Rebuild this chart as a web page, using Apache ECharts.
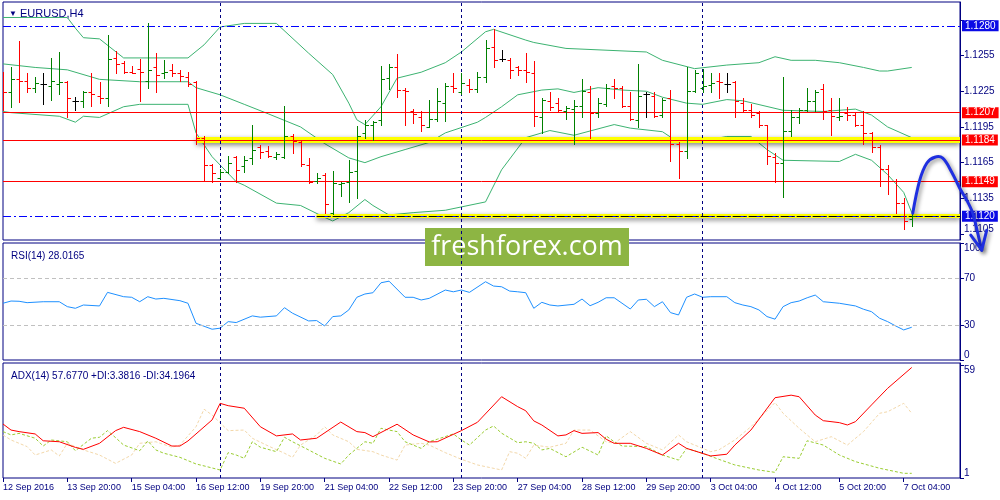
<!DOCTYPE html>
<html>
<head>
<meta charset="utf-8">
<title>EURUSD,H4</title>
<script src="https://cdn.jsdelivr.net/npm/echarts@6/dist/echarts.min.js"></script>
<style>
html, body { margin: 0; padding: 0; background: #fff; }
#chart { width: 1000px; height: 500px; }
</style>
</head>
<body>
<div id="chart"></div>
<script>
// EURUSD H4 bars, one entry per bar (12 Sep 12:00 .. 7 Oct 04:00)
var barOpen = [1.1237,1.1224,1.1235,1.1234,1.1228,1.1231,1.1229,1.1231,1.1233,1.1217,
  1.1217,1.1224,1.1221,1.1219,1.1253,1.1249,1.1241,1.1244,1.1234,1.1245,
  1.1240,1.1243,1.1240,1.1237,1.1233,1.1186,1.1163,1.1152,1.1157,1.1170,
  1.1162,1.1169,1.1178,1.1175,1.1170,1.1170,1.1187,1.1182,1.1163,1.1150,
  1.1155,1.1123,1.1147,1.1149,1.1158,1.1190,1.1197,1.1201,1.1236,1.1245,
  1.1226,1.1208,1.1203,1.1195,1.1202,1.1215,1.1229,1.1224,1.1230,1.1227,
  1.1237,1.1262,1.1252,1.1251,1.1245,1.1243,1.1240,1.1203,1.1217,1.1215,
  1.1208,1.1210,1.1213,1.1224,1.1207,1.1214,1.1229,1.1228,1.1213,1.1201,
  1.1223,1.1221,1.1205,1.1219,1.1181,1.1175,1.1225,1.1228,1.1230,1.1234,
  1.1231,1.1233,1.1215,1.1209,1.1207,1.1197,1.1170,1.1165,1.1192,1.1203,
  1.1209,1.1217,1.1227,1.1209,1.1203,1.1207,1.1205,1.1197,1.1190,1.1178,
  1.1160,1.1150,1.1131,1.1118];
var barHigh = [1.1241,1.1245,1.1267,1.1240,1.1237,1.1240,1.1253,1.1258,1.1234,1.1220,
  1.1225,1.1240,1.1233,1.1272,1.1259,1.1250,1.1246,1.1252,1.1282,1.1257,
  1.1251,1.1248,1.1243,1.1241,1.1234,1.1187,1.1164,1.1160,1.1171,1.1171,
  1.1171,1.1197,1.1180,1.1179,1.1174,1.1213,1.1189,1.1183,1.1169,1.1156,
  1.1156,1.1158,1.1149,1.1167,1.1196,1.1201,1.1200,1.1246,1.1248,1.1256,
  1.1228,1.1210,1.1208,1.1218,1.1228,1.1232,1.1240,1.1240,1.1235,1.1241,
  1.1268,1.1277,1.1260,1.1253,1.1246,1.1257,1.1250,1.1219,1.1224,1.1219,
  1.1213,1.1218,1.1235,1.1229,1.1219,1.1231,1.1235,1.1229,1.1224,1.1248,
  1.1224,1.1224,1.1219,1.1226,1.1182,1.1245,1.1243,1.1244,1.1240,1.1240,
  1.1240,1.1234,1.1219,1.1214,1.1208,1.1197,1.1173,1.1237,1.1209,1.1211,
  1.1228,1.1226,1.1231,1.1219,1.1219,1.1212,1.1207,1.1208,1.1191,1.1180,
  1.1163,1.1151,1.1135,1.1123];
var barLow = [1.1209,1.1212,1.1216,1.1224,1.1224,1.1214,1.1218,1.1223,1.1203,1.1209,
  1.1212,1.1213,1.1215,1.1213,1.1240,1.1240,1.1240,1.1217,1.1228,1.1224,
  1.1236,1.1238,1.1234,1.1229,1.1181,1.1150,1.1149,1.1152,1.1156,1.1149,
  1.1157,1.1164,1.1169,1.1170,1.1168,1.1169,1.1173,1.1162,1.1148,1.1148,
  1.1123,1.1122,1.1137,1.1132,1.1135,1.1186,1.1184,1.1197,1.1227,1.1220,
  1.1197,1.1198,1.1192,1.1195,1.1200,1.1200,1.1224,1.1223,1.1224,1.1224,
  1.1233,1.1245,1.1250,1.1236,1.1239,1.1233,1.1196,1.1190,1.1209,1.1208,
  1.1202,1.1181,1.1203,1.1186,1.1203,1.1213,1.1219,1.1212,1.1201,1.1195,
  1.1203,1.1203,1.1203,1.1166,1.1152,1.1169,1.1224,1.1224,1.1224,1.1219,
  1.1224,1.1203,1.1208,1.1203,1.1195,1.1164,1.1149,1.1136,1.1187,1.1198,
  1.1208,1.1208,1.1202,1.1188,1.1201,1.1201,1.1196,1.1181,1.1174,1.1145,
  1.1139,1.1123,1.1109,1.1112];
var barClose = [1.1224,1.1235,1.1234,1.1228,1.1232,1.1231,1.1234,1.1233,1.1219,1.1217,
  1.1224,1.1223,1.1219,1.1252,1.1248,1.1241,1.1240,1.1241,1.1243,1.1239,
  1.1241,1.1240,1.1238,1.1231,1.1186,1.1163,1.1156,1.1157,1.1165,1.1159,
  1.1167,1.1176,1.1174,1.1171,1.1172,1.1187,1.1183,1.1164,1.1149,1.1152,
  1.1130,1.1148,1.1148,1.1157,1.1187,1.1197,1.1199,1.1235,1.1245,1.1226,
  1.1225,1.1206,1.1197,1.1202,1.1217,1.1229,1.1228,1.1232,1.1227,1.1237,
  1.1261,1.1251,1.1252,1.1243,1.1243,1.1241,1.1204,1.1218,1.1212,1.1209,
  1.1211,1.1213,1.1225,1.1207,1.1215,1.1228,1.1228,1.1213,1.1202,1.1221,
  1.1223,1.1204,1.1218,1.1181,1.1175,1.1225,1.1240,1.1229,1.1232,1.1233,
  1.1231,1.1217,1.1209,1.1205,1.1197,1.1171,1.1165,1.1192,1.1203,1.1209,
  1.1217,1.1224,1.1208,1.1204,1.1204,1.1205,1.1197,1.1190,1.1178,1.1160,
  1.1150,1.1131,1.1116,1.1120];

// Bollinger bands, read as [bar, price]
var bbUpper = [[0,1.1287],[8,1.1287],[9,1.1278],[10,1.1270],[12,1.1269],[15,1.1253],[23,1.1253],
  [25,1.1264],[27,1.1279],[30,1.1282],[34,1.1282],[38,1.1257],[41,1.1239],[43,1.1215],[44,1.1201],
  [45,1.1197],[47,1.1212],[49,1.1236],[52,1.1241],[55,1.1249],[57,1.1258],[60,1.1275],[61,1.1277],
  [65,1.1268],[66,1.1266],[70,1.1261],[80,1.1258],[82,1.1251],[86,1.1244],[90,1.1247],[94,1.1249],
  [96,1.1254],[98,1.1251],[101,1.1251],[104,1.1249],[107,1.1245],[109,1.1242],[110,1.1242],[113,1.1245]];
var bbMiddle = [[0,1.1248],[4,1.1245],[8,1.1243],[12,1.1235],[17,1.1233],[23,1.1233],[24,1.1228],
  [27,1.1222],[30,1.1214],[33,1.1206],[37,1.1195],[40,1.1181],[43,1.1169],[45,1.1165],[47,1.1170],
  [50,1.1176],[53,1.1182],[55,1.1190],[59,1.1199],[60,1.1203],[62,1.1212],[64,1.1222],[67,1.1226],
  [69,1.1227],[71,1.1224],[74,1.1228],[77,1.1226],[80,1.1225],[82,1.1220],[85,1.1215],[87,1.1214],
  [90,1.1218],[92,1.1217],[97,1.1209],[102,1.1208],[106,1.1210],[108,1.1205],[110,1.1195],[113,1.1186]];
var bbLower = [[0,1.1208],[1,1.1207],[7,1.1204],[9,1.1199],[10,1.1204],[12,1.1203],[15,1.1212],
  [17,1.1214],[23,1.1214],[24,1.1190],[26,1.1170],[29,1.1149],[30,1.1146],[34,1.1131],[37,1.1129],
  [40,1.1119],[41,1.1116],[43,1.1123],[45,1.1134],[46,1.1129],[48,1.1121],[51,1.1123],[55,1.1125],
  [60,1.1132],[62,1.1159],[65,1.1186],[68,1.1192],[71,1.1188],[76,1.1197],[78,1.1194],[82,1.1191],
  [84,1.1182],[86,1.1182],[90,1.1187],[93,1.1187],[95,1.1176],[97,1.1167],[104,1.1166],[106,1.1172],
  [108,1.1167],[110,1.1155],[112,1.1140],[113,1.1123]];

// RSI(14)
var rsiPoints = [[0,48.5],[1,50.4],[2,50.2],[3,49.0],[5,49.8],[7,49.8],[8,45.6],[9,44.2],[10,47.0],
  [12,46.2],[13,57.8],[15,54.1],[16,53.6],[17,49.8],[18,54.1],[19,52.1],[20,52.7],[22,50.7],[23,48.5],
  [24,31.4],[26,26.3],[27,27.2],[28,32.8],[29,32.0],[31,37.7],[32,36.6],[34,37.7],[35,44.7],[36,40.0],
  [38,33.4],[39,33.7],[40,29.1],[41,37.1],[42,37.7],[43,42.8],[44,53.6],[45,56.4],[46,57.5],[47,66.0],
  [48,67.4],[50,53.6],[51,53.6],[52,51.3],[53,52.7],[55,59.8],[56,58.3],[57,59.8],[58,57.8],[60,66.9],
  [61,63.2],[62,62.6],[63,58.9],[64,58.3],[65,57.5],[66,44.2],[67,49.3],[68,47.0],[69,46.2],[71,47.6],
  [72,52.1],[73,46.4],[74,49.3],[75,53.2],[76,53.2],[78,43.6],[79,51.3],[80,51.9],[81,45.6],[82,49.8],
  [83,40.5],[84,38.5],[85,53.6],[86,56.4],[87,53.6],[88,54.1],[90,54.1],[91,49.0],[92,47.0],[93,45.6],
  [94,42.8],[95,37.1],[96,34.9],[97,45.6],[98,49.0],[99,50.4],[100,53.2],[101,55.5],[102,49.8],
  [104,48.5],[106,46.2],[107,43.4],[108,41.3],[109,35.7],[110,32.8],[111,29.1],[112,25.7],[113,28.0]];

// ADX(14) with +DI / -DI
var adxMain = [[0,28.7],[1,25.6],[2,24.8],[4,23.6],[5,20.1],[7,19.6],[9,16.7],[10,15.7],[12,18.8],
  [14,25.3],[15,27.0],[17,24.8],[19,21.4],[21,17.4],[22,17.4],[23,20.0],[26,30.8],[27,39.3],[28,38.1],
  [30,36.8],[32,27.3],[34,22.6],[36,23.6],[37,20.5],[39,21.4],[42,29.7],[44,24.8],[45,24.3],[46,22.2],
  [49,28.6],[51,23.1],[53,19.5],[54,19.6],[57,25.3],[59,29.6],[62,42.7],[64,37.6],[65,35.5],[66,30.3],
  [67,28.2],[69,22.6],[70,23.1],[71,25.3],[72,23.9],[74,24.3],[75,20.9],[76,18.8],[78,18.8],[80,16.2],
  [82,12.8],[84,18.8],[85,16.2],[88,12.3],[90,13.2],[91,17.9],[93,25.6],[96,42.2],[98,43.5],[99,42.7],
  [101,33.3],[102,30.4],[104,29.4],[105,28.2],[106,29.9],[108,38.5],[110,47.0],[113,57.7]];
var plusDI = [[0,24.8],[1,23.1],[2,23.9],[4,21.4],[5,17.4],[6,20.5],[8,19.6],[9,15.0],[11,21.4],
  [12,21.9],[13,25.3],[14,21.7],[15,17.9],[17,15.0],[18,20.0],[19,15.4],[20,13.7],[22,11.6],[24,8.2],
  [25,7.2],[27,5.1],[28,14.0],[29,12.8],[30,11.1],[31,19.6],[32,16.8],[34,14.5],[35,21.9],[36,19.6],
  [38,15.4],[40,11.1],[42,8.2],[43,12.8],[45,19.6],[46,18.8],[47,26.5],[48,25.6],[49,24.8],[50,19.6],
  [52,16.2],[53,19.6],[54,20.9],[56,23.6],[57,20.5],[58,17.9],[60,25.6],[61,27.7],[62,24.0],[64,19.1],
  [65,19.6],[66,18.8],[67,15.4],[68,16.2],[70,11.9],[72,16.8],[74,12.8],[75,22.6],[76,19.6],[77,17.4],
  [80,17.1],[82,12.8],[84,10.2],[85,16.2],[87,13.7],[89,10.6],[91,7.7],[94,5.1],[96,3.9],[97,11.9],
  [99,11.1],[100,20.1],[102,17.9],[104,12.8],[106,9.4],[109,6.0],[112,3.4],[113,3.4]];
var minusDI = [[0,23.1],[1,20.5],[3,17.1],[4,12.8],[6,15.4],[7,12.3],[8,18.8],[10,15.4],[12,12.8],
  [14,8.5],[16,12.8],[17,18.8],[19,19.6],[21,16.8],[22,17.9],[24,27.3],[25,36.3],[26,33.3],[28,25.3],
  [30,25.6],[31,21.4],[33,17.4],[35,13.7],[36,11.6],[37,17.9],[39,23.1],[40,27.3],[41,23.1],[43,19.6],
  [44,15.7],[46,14.5],[47,12.8],[49,10.2],[50,17.9],[52,18.8],[53,17.9],[55,14.0],[57,10.6],[59,7.7],
  [62,5.1],[63,14.5],[64,13.7],[65,11.1],[66,17.9],[68,16.8],[70,18.8],[71,25.6],[73,25.6],[75,19.6],
  [76,18.8],[78,24.8],[80,18.8],[82,15.4],[84,23.1],[85,19.6],[88,14.5],[89,15.4],[91,20.5],[93,27.3],
  [96,39.7],[97,34.2],[99,26.5],[101,19.6],[103,22.2],[105,17.9],[107,24.8],[109,34.2],[110,35.0],
  [112,39.3],[113,34.2]];

// time axis labels, one every 8 bars
var tickLabels = ['12 Sep 2016','13 Sep 20:00','15 Sep 04:00','16 Sep 12:00','19 Sep 20:00',
  '21 Sep 04:00','22 Sep 12:00','23 Sep 20:00','27 Sep 04:00','28 Sep 12:00','29 Sep 20:00',
  '3 Oct 04:00','4 Oct 12:00','5 Oct 20:00','7 Oct 04:00'];
var weekBars = [27, 57, 87];
var priceTicks = [1.1105, 1.1135, 1.1165, 1.1195, 1.1225, 1.1255, 1.1285];
var redLevels = [1.1207, 1.1184, 1.1149];
var blueLevels = [1.1280, 1.1120];
var zoneLevels = [[24, 1.1184], [39, 1.1120]];

var navy = '#000080';
var font = 'Liberation Sans';
var slotCount = 120; // bars plus MT4 chart shift on the right
var categories = [];
for (var s = 0; s < slotCount; s++) categories.push(s);
var ohlc = barOpen.map(function (o, i) {
  return [i, o, barHigh[i], barLow[i], barClose[i]];
});

var chart = echarts.init(document.getElementById('chart'));

function sepLines() {
  return {
    silent: true, symbol: ['none', 'none'], animation: false,
    label: { show: false },
    lineStyle: { color: navy, type: [3, 3], width: 1 },
    data: weekBars.map(function (b) { return { xAxis: b }; })
  };
}

function levelLabel(bg) {
  return {
    show: true, position: 'end', distance: 2,
    formatter: function (p) { return Number(p.value).toFixed(4); },
    color: '#fff', backgroundColor: bg, padding: [1, 3, 0, 3],
    fontSize: 10, fontFamily: font
  };
}

var levelData = [];
zoneLevels.forEach(function (z, k) {
  levelData.push([
    { coord: [z[0], z[1]], lineStyle: { color: '#ffff00', width: k === 0 ? 6 : 4, type: 'solid',
      shadowColor: 'rgba(0,0,0,0.5)', shadowBlur: 5, shadowOffsetY: 2 } },
    { coord: [slotCount - 1, z[1]] }
  ]);
});
blueLevels.forEach(function (v) {
  levelData.push({ yAxis: v, lineStyle: { color: '#0000ff', type: [8, 3, 2, 3], width: 1 }, label: levelLabel('#0a0ae6') });
});
levelData.push([
  { coord: [zoneLevels[1][0], zoneLevels[1][1]], lineStyle: { color: '#000', type: [8, 3, 2, 3], width: 1 } },
  { coord: [slotCount - 1, zoneLevels[1][1]] }
]);
redLevels.forEach(function (v) {
  levelData.push({ yAxis: v, lineStyle: { color: '#ff0000', type: 'solid', width: 1 }, label: levelLabel('#ff0000') });
});

function xAxisFor(k) {
  var last = k === 2;
  return {
    type: 'category', gridIndex: k, data: categories, boundaryGap: false,
    axisLine: { show: false },
    axisTick: { show: last, interval: 7, length: 4, lineStyle: { color: navy } },
    axisLabel: {
      show: last, interval: 7, align: 'left', margin: 5,
      color: navy, fontSize: 9, fontFamily: font,
      formatter: function (v, idx) { return tickLabels[idx / 8] || ''; }
    },
    splitLine: { show: false }
  };
}

function yAxisFor(k, min, max, ticks, fmt) {
  return {
    type: 'value', gridIndex: k, position: 'right', min: min, max: max,
    splitLine: { show: false },
    axisLine: { show: true, lineStyle: { color: navy } },
    axisTick: { show: true, length: 4, customValues: ticks, lineStyle: { color: navy } },
    axisLabel: {
      customValues: ticks, margin: 4, color: navy, fontSize: 10, fontFamily: font,
      formatter: fmt, verticalAlignMinLabel: 'bottom', verticalAlignMaxLabel: 'top'
    }
  };
}

var gridStyle = { show: true, borderColor: navy, borderWidth: 1, backgroundColor: '#fff' };

var option = {
  animation: false,
  backgroundColor: '#fff',
  title: [
    { text: '{t|▼} EURUSD,H4', left: 4, top: 3,
      textStyle: { fontSize: 11, fontWeight: 'normal', color: navy, fontFamily: font,
        rich: { t: { fontSize: 8, color: navy } } } },
    { text: 'RSI(14) 28.0165', left: 6, top: 246,
      textStyle: { fontSize: 10, fontWeight: 'normal', color: navy, fontFamily: font } },
    { text: 'ADX(14) 57.6770 +DI:3.3816 -DI:34.1964', left: 6, top: 366,
      textStyle: { fontSize: 10, fontWeight: 'normal', color: navy, fontFamily: font } }
  ],
  grid: [
    Object.assign({ left: 3, right: 40, top: 2, height: 238 }, gridStyle),
    Object.assign({ left: 3, right: 40, top: 243, height: 117 }, gridStyle),
    Object.assign({ left: 3, right: 40, top: 363, height: 115 }, gridStyle)
  ],
  xAxis: [xAxisFor(0), xAxisFor(1), xAxisFor(2)],
  yAxis: [
    yAxisFor(0, 1.1100, 1.1300, priceTicks, function (v) { return v.toFixed(4); }),
    yAxisFor(1, 0, 100, [0, 30, 70, 100], function (v) { return String(v); }),
    yAxisFor(2, 1, 60, [1, 59], function (v) { return String(v); })
  ],
  series: [
    {
      name: 'levels', type: 'line', xAxisIndex: 0, yAxisIndex: 0, data: [], z: 2,
      markLine: { silent: true, precision: 4, symbol: ['none', 'none'], animation: false,
        label: { show: false }, data: levelData }
    },
    {
      name: 'sep0', type: 'line', xAxisIndex: 0, yAxisIndex: 0, data: [], z: 1, markLine: sepLines()
    },
    {
      name: 'BB upper', type: 'line', xAxisIndex: 0, yAxisIndex: 0, data: bbUpper, z: 3,
      symbol: 'none', lineStyle: { color: '#3cb371', width: 1 }
    },
    {
      name: 'BB middle', type: 'line', xAxisIndex: 0, yAxisIndex: 0, data: bbMiddle, z: 3,
      symbol: 'none', lineStyle: { color: '#3cb371', width: 1 }
    },
    {
      name: 'BB lower', type: 'line', xAxisIndex: 0, yAxisIndex: 0, data: bbLower, z: 3,
      symbol: 'none', lineStyle: { color: '#3cb371', width: 1 }
    },
    {
      name: 'EURUSD', type: 'custom', xAxisIndex: 0, yAxisIndex: 0, data: ohlc, z: 10, clip: true,
      encode: { x: 0, y: [1, 2, 3, 4] },
      renderItem: function (params, api) {
        var i = api.value(0);
        var o = api.value(1), c = api.value(4);
        var pH = api.coord([i, api.value(2)]);
        var pL = api.coord([i, api.value(3)]);
        var pO = api.coord([i, o]);
        var pC = api.coord([i, c]);
        var color = c > o ? '#008000' : (c < o ? '#ff0000' : '#000000');
        var x = Math.round(pH[0]) + 0.5;
        var yo = Math.round(pO[1]) + 0.5, yc = Math.round(pC[1]) + 0.5;
        var st = { stroke: color, lineWidth: 1 };
        return {
          type: 'group',
          children: [
            { type: 'line', shape: { x1: x, y1: Math.round(pH[1]), x2: x, y2: Math.round(pL[1]) + 1 }, style: st },
            { type: 'line', shape: { x1: x - 3, y1: yo, x2: x, y2: yo }, style: st },
            { type: 'line', shape: { x1: x, y1: yc, x2: x + 3.5, y2: yc }, style: st }
          ]
        };
      }
    },
    {
      name: 'RSI', type: 'line', xAxisIndex: 1, yAxisIndex: 1, data: rsiPoints,
      symbol: 'none', lineStyle: { color: '#1e90ff', width: 1 }, z: 3,
      markLine: {
        silent: true, symbol: ['none', 'none'], animation: false, label: { show: false },
        lineStyle: { color: '#c0c0c0', type: [4, 3], width: 1 },
        data: [{ yAxis: 70 }, { yAxis: 30 }]
      }
    },
    { name: 'sep1', type: 'line', xAxisIndex: 1, yAxisIndex: 1, data: [], z: 1, markLine: sepLines() },
    {
      name: '-DI', type: 'line', xAxisIndex: 2, yAxisIndex: 2, data: minusDI,
      symbol: 'none', lineStyle: { color: '#f3d8aa', width: 1, type: [3, 2] }, z: 3
    },
    {
      name: '+DI', type: 'line', xAxisIndex: 2, yAxisIndex: 2, data: plusDI,
      symbol: 'none', lineStyle: { color: '#9acd32', width: 1, type: [3, 2] }, z: 4
    },
    {
      name: 'ADX', type: 'line', xAxisIndex: 2, yAxisIndex: 2, data: adxMain,
      symbol: 'none', lineStyle: { color: '#ff0000', width: 1 }, z: 5
    },
    { name: 'sep2', type: 'line', xAxisIndex: 2, yAxisIndex: 2, data: [], z: 1, markLine: sepLines() }
  ]
};

chart.setOption(option);

// hand-drawn forecast arrow, anchored to the last bar close
var a = chart.convertToPixel({ gridIndex: 0 }, [barClose.length - 1, barClose[barClose.length - 1]]);
var curve = [[0, 0], [7, -33], [14, -50], [22, -56], [30, -55], [39, -41], [47, -25], [54, -13],
  [60, 0], [65, 20], [69, 37]].map(function (d) { return [a[0] + 1 + d[0], a[1] - 3 + d[1]]; });
var tip = curve[curve.length - 1];
var arrowStyle = { stroke: '#1f2fe0', lineWidth: 3, fill: null, lineCap: 'round', lineJoin: 'round',
  shadowColor: 'rgba(0,0,0,0.45)', shadowBlur: 4, shadowOffsetX: 2, shadowOffsetY: 2 };

chart.setOption({
  graphic: [
    { type: 'polyline', z: 100, shape: { points: curve, smooth: 0.35 }, style: arrowStyle },
    { type: 'polyline', z: 100, shape: { points: [[tip[0] - 11, tip[1] - 15], tip, [tip[0] + 5, tip[1] - 20]] }, style: arrowStyle },
    {
      type: 'group', left: 425, top: 228, z: 120,
      children: [
        { type: 'rect', shape: { x: 0, y: 0, width: 204, height: 38 }, style: { fill: '#8db543' } },
        { type: 'text', x: 102, y: 19, style: { text: 'freshforex.com', fill: '#fff', align: 'center',
          verticalAlign: 'middle', font: 'normal 27px "Open Sans"' } }
      ]
    }
  ]
});
</script>
</body>
</html>
